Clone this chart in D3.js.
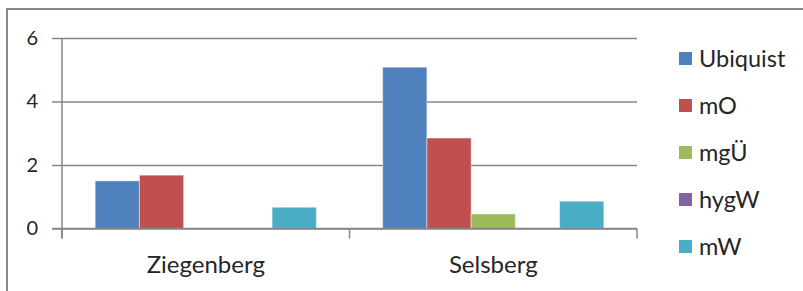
<!DOCTYPE html>
<html>
<head>
<meta charset="utf-8">
<script src="https://cdn.jsdelivr.net/npm/d3@7"></script>
<style>
  body { margin: 0; background: #fff; }
  text { font-family: Lato, "Open Sans", sans-serif; }
</style>
</head>
<body>
<div id="chart"></div>
<script>
// data
var categories = ["Ziegenberg", "Selsberg"];
var seriesNames = ["Ubiquist", "mO", "mgÜ", "hygW", "mW"];
var seriesColors = ["#4F81BD", "#C0504D", "#9BBB59", "#8064A2", "#4BACC6"];
var ziegenbergValues = [1.5, 1.68, 0, 0, 0.67];
var selsbergValues = [5.08, 2.85, 0.46, 0, 0.86];
var yTicks = [0, 2, 4, 6];

var svgWidth = 803;
var svgHeight = 291;
var textColor = "#262626";

var svg = d3.select("#chart")
  .append("svg")
  .attr("width", svgWidth)
  .attr("height", svgHeight);

// outer chart frame (runs off the right and bottom edge)
svg.append("rect")
  .attr("x", 7)
  .attr("y", 9)
  .attr("width", 820)
  .attr("height", 300)
  .attr("fill", "none")
  .attr("stroke", "#8a8a8a")
  .attr("stroke-width", 2);

var plot = { left: 62, right: 637, top: 38, bottom: 228.5 };

var rows = categories.map(function(c, i) {
  var vals = i === 0 ? ziegenbergValues : selsbergValues;
  return { cat: c, values: vals };
});

var x0 = d3.scaleBand()
  .domain(categories)
  .range([plot.left, plot.right]);

// Excel style gap width 150%: 5 bars + 1.5 bar widths of gap
var barW = x0.bandwidth() / (seriesNames.length + 1.5);
var x1 = d3.scaleBand()
  .domain(seriesNames)
  .range([barW * 0.75, barW * 0.75 + barW * seriesNames.length]);

var y = d3.scaleLinear()
  .domain([0, 6])
  .range([plot.bottom, plot.top]);

// gridlines + y axis
var yAxis = d3.axisLeft(y)
  .tickValues(yTicks)
  .tickFormat(d3.format("d"))
  .tickSize(-(plot.right - plot.left))
  .tickPadding(24)
  .tickSizeOuter(0);

var yG = svg.append("g")
  .attr("transform", `translate(${plot.left},0)`)
  .call(yAxis);
yG.select(".domain").remove();
yG.selectAll(".tick line")
  .attr("x1", -10)
  .attr("stroke", "#868686")
  .attr("stroke-width", 1.5);
yG.selectAll(".tick text")
  .attr("font-size", 20)
  .attr("fill", textColor);

// vertical axis line
svg.append("line")
  .attr("x1", plot.left).attr("x2", plot.left)
  .attr("y1", plot.top).attr("y2", plot.bottom + 10)
  .attr("stroke", "#868686")
  .attr("stroke-width", 1.5);

// x axis
var xAxis = d3.axisBottom(x0)
  .tickSize(0)
  .tickPadding(27);
var xG = svg.append("g")
  .attr("transform", `translate(0,${plot.bottom})`)
  .call(xAxis);
xG.select(".domain").remove();
xG.selectAll(".tick text")
  .attr("font-size", 24)
  .attr("fill", textColor);

// category separator ticks
var sepX = [plot.left].concat(categories.map(function(c) { return x0(c) + x0.bandwidth(); }));
svg.selectAll(".sep")
  .data(sepX)
  .enter()
  .append("line")
  .attr("x1", d => d).attr("x2", d => d)
  .attr("y1", plot.bottom).attr("y2", plot.bottom + 10)
  .attr("stroke", "#868686")
  .attr("stroke-width", 1.5);

// bars
var groups = svg.selectAll(".cat")
  .data(rows)
  .enter()
  .append("g")
  .attr("transform", d => `translate(${x0(d.cat)},0)`);

groups.selectAll("rect")
  .data(d => d.values.map(function(v, i) { return { name: seriesNames[i], value: v, color: seriesColors[i] }; }))
  .enter()
  .append("rect")
  .attr("x", d => x1(d.name))
  .attr("width", barW)
  .attr("y", d => y(d.value))
  .attr("height", d => y(0) - y(d.value))
  .attr("fill", d => d.color)
  .attr("stroke", "rgba(255,255,255,0.45)")
  .attr("stroke-width", d => d.value > 0 ? 1 : 0);

// x baseline
svg.append("line")
  .attr("x1", plot.left - 10).attr("x2", plot.right)
  .attr("y1", plot.bottom).attr("y2", plot.bottom)
  .attr("stroke", "#868686")
  .attr("stroke-width", 1.5);

// legend
var legend = svg.append("g")
  .attr("transform", "translate(679,58.5)");

var items = legend.selectAll("g")
  .data(seriesNames)
  .enter()
  .append("g")
  .attr("transform", (d, i) => `translate(0,${i * 47})`);

items.append("rect")
  .attr("x", 0)
  .attr("y", -6.5)
  .attr("width", 13)
  .attr("height", 13)
  .attr("fill", (d, i) => seriesColors[i]);

items.append("text")
  .attr("x", 20)
  .attr("y", 0)
  .attr("dy", "0.35em")
  .attr("font-size", 23.5)
  .attr("fill", textColor)
  .text(d => d);
</script>
</body>
</html>
